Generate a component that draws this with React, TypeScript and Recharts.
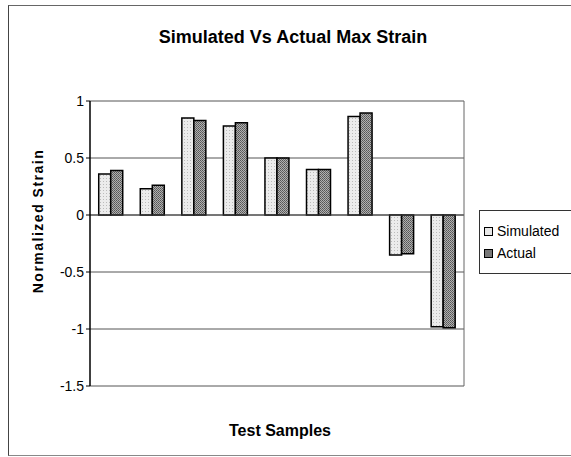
import React from "react";
import {
  BarChart,
  Bar,
  XAxis,
  YAxis,
  CartesianGrid,
  ReferenceLine,
} from "recharts";

const samples = ["1", "2", "3", "4", "5", "6", "7", "8", "9"];
const simulated = [0.36, 0.23, 0.85, 0.78, 0.5, 0.4, 0.865, -0.35, -0.98];
const actual = [0.39, 0.26, 0.83, 0.81, 0.5, 0.4, 0.895, -0.34, -0.99];
const yTicks = [-1.5, -1, -0.5, 0, 0.5, 1];

const data = samples.map((name, i) => ({
  name,
  Simulated: simulated[i],
  Actual: actual[i],
}));

const FONT = "'Liberation Sans', Arial, sans-serif";

function LegendBox() {
  const item = (label: string, fill: string) => (
    <div style={{ display: "flex", alignItems: "center", height: 22 }}>
      <span
        style={{
          display: "inline-block",
          width: 7,
          height: 7,
          border: "1.5px solid #000",
          background: fill,
          marginRight: 4,
        }}
      />
      <span>{label}</span>
    </div>
  );
  return (
    <div
      style={{
        position: "absolute",
        left: 479,
        top: 210,
        border: "1px solid #333",
        borderRight: "none",
        padding: "9px 0 9px 4px",
        fontFamily: FONT,
        fontSize: 14,
        color: "#000",
        width: 92,
        boxSizing: "border-box",
      }}
    >
      {item("Simulated", "#e8e8e8")}
      {item("Actual", "#777")}
    </div>
  );
}

export default function App() {
  return (
    <div
      style={{
        position: "absolute",
        left: 0,
        top: 0,
        width: 571,
        height: 457,
        background: "#fff",
        fontFamily: FONT,
      }}
    >
      <div
        style={{
          position: "absolute",
          left: 8,
          top: 5,
          width: 563,
          height: 449,
          borderLeft: "1px solid #444",
          borderTop: "1px solid #666",
          borderBottom: "1px solid #888",
        }}
      />
      <div
        style={{
          position: "absolute",
          top: 27,
          left: 293,
          transform: "translateX(-50%)",
          whiteSpace: "nowrap",
          fontSize: 18,
          fontWeight: "bold",
        }}
      >
        Simulated Vs Actual Max Strain
      </div>
      <div
        style={{
          position: "absolute",
          left: 38,
          top: 221,
          transform: "translate(-50%, -50%) rotate(-90deg)",
          whiteSpace: "nowrap",
          fontSize: 14,
          fontWeight: "bold",
          letterSpacing: 1.5,
        }}
      >
        Normalized Strain
      </div>
      <div
        style={{
          position: "absolute",
          top: 422,
          left: 280,
          transform: "translateX(-50%)",
          fontSize: 16,
          fontWeight: "bold",
          whiteSpace: "nowrap",
        }}
      >
        Test Samples
      </div>
      <BarChart
        width={571}
        height={457}
        data={data}
        margin={{ top: 101, right: 106, left: 40, bottom: 71 }}
        barCategoryGap="21%"
        barGap={0}
        style={{ position: "absolute", left: 0, top: 0 }}
      >
        <defs>
          <pattern id="simPat" width="3" height="3" patternUnits="userSpaceOnUse">
            <rect width="3" height="3" fill="#ececec" />
            <rect x="1" y="1" width="1" height="1" fill="#bbb" />
          </pattern>
          <pattern id="actPat" width="2" height="2" patternUnits="userSpaceOnUse">
            <rect width="2" height="2" fill="#b0b0b0" />
            <rect width="1" height="1" fill="#555" />
            <rect x="1" y="1" width="1" height="1" fill="#666" />
          </pattern>
        </defs>
        <CartesianGrid vertical={false} stroke="#555" strokeWidth={1} />
        <XAxis dataKey="name" hide />
        <YAxis
          domain={[-1.5, 1]}
          ticks={yTicks}
          width={50}
          interval={0}
          axisLine={{ stroke: "#000", strokeWidth: 1.5 }}
          tickLine={{ stroke: "#000" }}
          tickSize={4}
          tick={{ fill: "#000", fontSize: 14, fontFamily: FONT }}
        />
        <YAxis
          yAxisId="r"
          orientation="right"
          domain={[-1.5, 1]}
          width={1}
          tick={false}
          tickLine={false}
          axisLine={{ stroke: "#666" }}
        />
        <ReferenceLine y={0} stroke="#444" />
        <Bar
          dataKey="Simulated"
          fill="url(#simPat)"
          stroke="#000"
          strokeWidth={1.5}
          isAnimationActive={false}
        />
        <Bar
          dataKey="Actual"
          fill="url(#actPat)"
          stroke="#000"
          strokeWidth={1.5}
          isAnimationActive={false}
        />
      </BarChart>
      <LegendBox />
    </div>
  );
}
